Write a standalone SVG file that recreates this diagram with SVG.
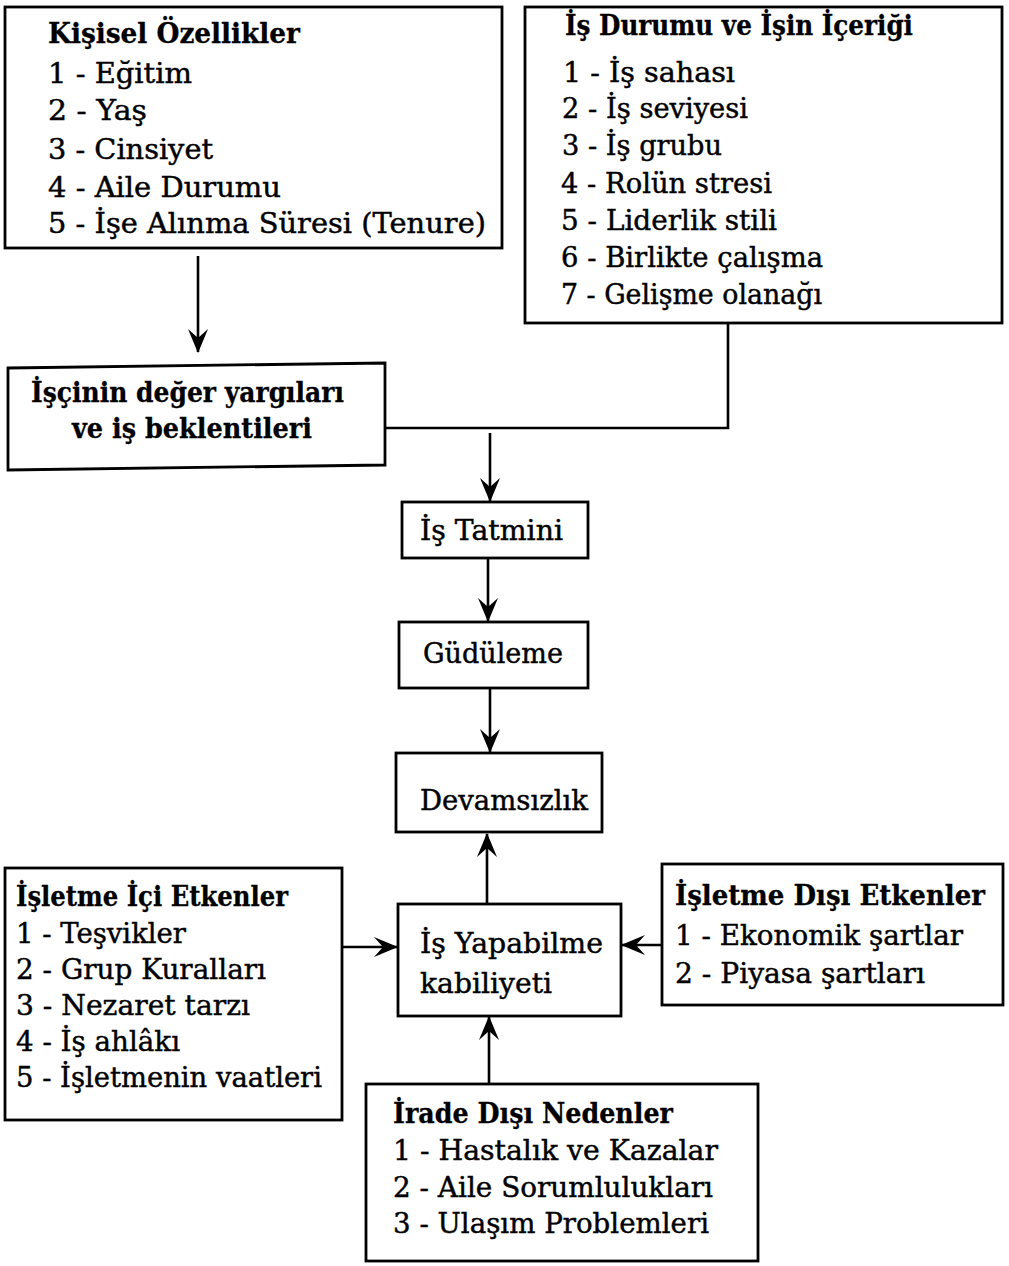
<svg xmlns="http://www.w3.org/2000/svg" width="1009" height="1266" viewBox="0 0 1009 1266">
<style>
  .box { fill: #fff; stroke: #000; stroke-width: 2.8; }
  .t { font-family: "DejaVu Serif", "Liberation Serif", serif; font-size: 27.5px; fill: #000; stroke: #000; stroke-width: 0.45; }
  .b { font-weight: bold; stroke-width: 0.3; }
  .ln { fill: none; stroke: #000; stroke-width: 2.6; }
  .ar { fill: none; stroke: #000; stroke-width: 2.6; marker-end: url(#ah); }
</style>
<defs>
  <marker id="ah" markerUnits="userSpaceOnUse" markerWidth="24" markerHeight="20" viewBox="0 0 24 20" refX="23" refY="10" orient="auto">
    <path d="M0,0 L24,10 L0,20 L9,10 Z" fill="#000"/>
  </marker>
</defs>
<rect width="1009" height="1266" fill="#fff"/>

<g id="connectors">
  <line class="ar" x1="198" y1="256" x2="198" y2="352"/>
  <polyline class="ln" points="728,323 728,428 385,428"/>
  <line class="ar" x1="490" y1="433" x2="490" y2="501"/>
  <line class="ar" x1="488" y1="558" x2="488" y2="621"/>
  <line class="ar" x1="490" y1="688" x2="490" y2="752"/>
  <line class="ar" x1="487" y1="904" x2="487" y2="834"/>
  <line class="ar" x1="342" y1="947" x2="397" y2="947"/>
  <line class="ar" x1="662" y1="945" x2="622" y2="945"/>
  <line class="ar" x1="489" y1="1084" x2="489" y2="1017"/>
</g>

<g id="kisisel">
  <rect class="box" x="5" y="7" width="497" height="241"/>
  <text class="t b" x="48" y="43" textLength="252" lengthAdjust="spacingAndGlyphs">Kişisel Özellikler</text>
  <text class="t" x="48" y="83" textLength="144" lengthAdjust="spacingAndGlyphs">1 - Eğitim</text>
  <text class="t" x="48" y="120" textLength="99" lengthAdjust="spacingAndGlyphs">2 - Yaş</text>
  <text class="t" x="48" y="159" textLength="165" lengthAdjust="spacingAndGlyphs">3 - Cinsiyet</text>
  <text class="t" x="48" y="197" textLength="233" lengthAdjust="spacingAndGlyphs">4 - Aile Durumu</text>
  <text class="t" x="48" y="233" textLength="438" lengthAdjust="spacingAndGlyphs">5 - İşe Alınma Süresi (Tenure)</text>
</g>

<g id="is-durumu">
  <rect class="box" x="525" y="7" width="477" height="316"/>
  <text class="t b" x="565" y="35" textLength="348" lengthAdjust="spacingAndGlyphs">İş Durumu ve İşin İçeriği</text>
  <text class="t" x="563" y="82" textLength="172" lengthAdjust="spacingAndGlyphs">1 - İş sahası</text>
  <text class="t" x="562" y="118" textLength="186" lengthAdjust="spacingAndGlyphs">2 - İş seviyesi</text>
  <text class="t" x="562" y="155" textLength="160" lengthAdjust="spacingAndGlyphs">3 - İş grubu</text>
  <text class="t" x="561" y="193" textLength="211" lengthAdjust="spacingAndGlyphs">4 - Rolün stresi</text>
  <text class="t" x="561" y="230" textLength="216" lengthAdjust="spacingAndGlyphs">5 - Liderlik stili</text>
  <text class="t" x="561" y="267" textLength="262" lengthAdjust="spacingAndGlyphs">6 - Birlikte çalışma</text>
  <text class="t" x="561" y="304" textLength="261" lengthAdjust="spacingAndGlyphs">7 - Gelişme olanağı</text>
</g>

<g id="iscinin">
  <polygon class="box" points="8,368 385,363 385,465 8,470"/>
  <text class="t b" x="31" y="402" textLength="313" lengthAdjust="spacingAndGlyphs">İşçinin değer yargıları</text>
  <text class="t b" x="72" y="438" textLength="240" lengthAdjust="spacingAndGlyphs">ve iş beklentileri</text>
</g>

<g id="is-tatmini">
  <rect class="box" x="402" y="502" width="186" height="56"/>
  <text class="t" x="420" y="540" textLength="143" lengthAdjust="spacingAndGlyphs">İş Tatmini</text>
</g>

<g id="gudulem">
  <rect class="box" x="399" y="622" width="189" height="66"/>
  <text class="t" x="423" y="663" textLength="140" lengthAdjust="spacingAndGlyphs">Güdüleme</text>
</g>

<g id="devamsizlik">
  <rect class="box" x="396" y="753" width="206" height="79"/>
  <text class="t" x="420" y="810" textLength="168" lengthAdjust="spacingAndGlyphs">Devamsızlık</text>
</g>

<g id="is-yapabilme">
  <rect class="box" x="398" y="904" width="223" height="112"/>
  <text class="t" x="420" y="953" textLength="183" lengthAdjust="spacingAndGlyphs">İş Yapabilme</text>
  <text class="t" x="420" y="993" textLength="132" lengthAdjust="spacingAndGlyphs">kabiliyeti</text>
</g>

<g id="isletme-ici">
  <rect class="box" x="5" y="868" width="337" height="252"/>
  <text class="t b" x="16" y="906" textLength="272" lengthAdjust="spacingAndGlyphs">İşletme İçi Etkenler</text>
  <text class="t" x="16" y="943" textLength="170" lengthAdjust="spacingAndGlyphs">1 - Teşvikler</text>
  <text class="t" x="16" y="979" textLength="250" lengthAdjust="spacingAndGlyphs">2 - Grup Kuralları</text>
  <text class="t" x="16" y="1015" textLength="234" lengthAdjust="spacingAndGlyphs">3 - Nezaret tarzı</text>
  <text class="t" x="16" y="1051" textLength="164" lengthAdjust="spacingAndGlyphs">4 - İş ahlâkı</text>
  <text class="t" x="16" y="1087" textLength="306" lengthAdjust="spacingAndGlyphs">5 - İşletmenin vaatleri</text>
</g>

<g id="isletme-disi">
  <rect class="box" x="662" y="864" width="341" height="141"/>
  <text class="t b" x="675" y="905" textLength="310" lengthAdjust="spacingAndGlyphs">İşletme Dışı Etkenler</text>
  <text class="t" x="675" y="945" textLength="288" lengthAdjust="spacingAndGlyphs">1 - Ekonomik şartlar</text>
  <text class="t" x="675" y="983" textLength="250" lengthAdjust="spacingAndGlyphs">2 - Piyasa şartları</text>
</g>

<g id="irade-disi">
  <rect class="box" x="366" y="1084" width="392" height="177"/>
  <text class="t b" x="393" y="1123" textLength="280" lengthAdjust="spacingAndGlyphs">İrade Dışı Nedenler</text>
  <text class="t" x="393" y="1160" textLength="325" lengthAdjust="spacingAndGlyphs">1 - Hastalık ve Kazalar</text>
  <text class="t" x="393" y="1197" textLength="320" lengthAdjust="spacingAndGlyphs">2 - Aile Sorumlulukları</text>
  <text class="t" x="393" y="1233" textLength="316" lengthAdjust="spacingAndGlyphs">3 - Ulaşım Problemleri</text>
</g>
</svg>
